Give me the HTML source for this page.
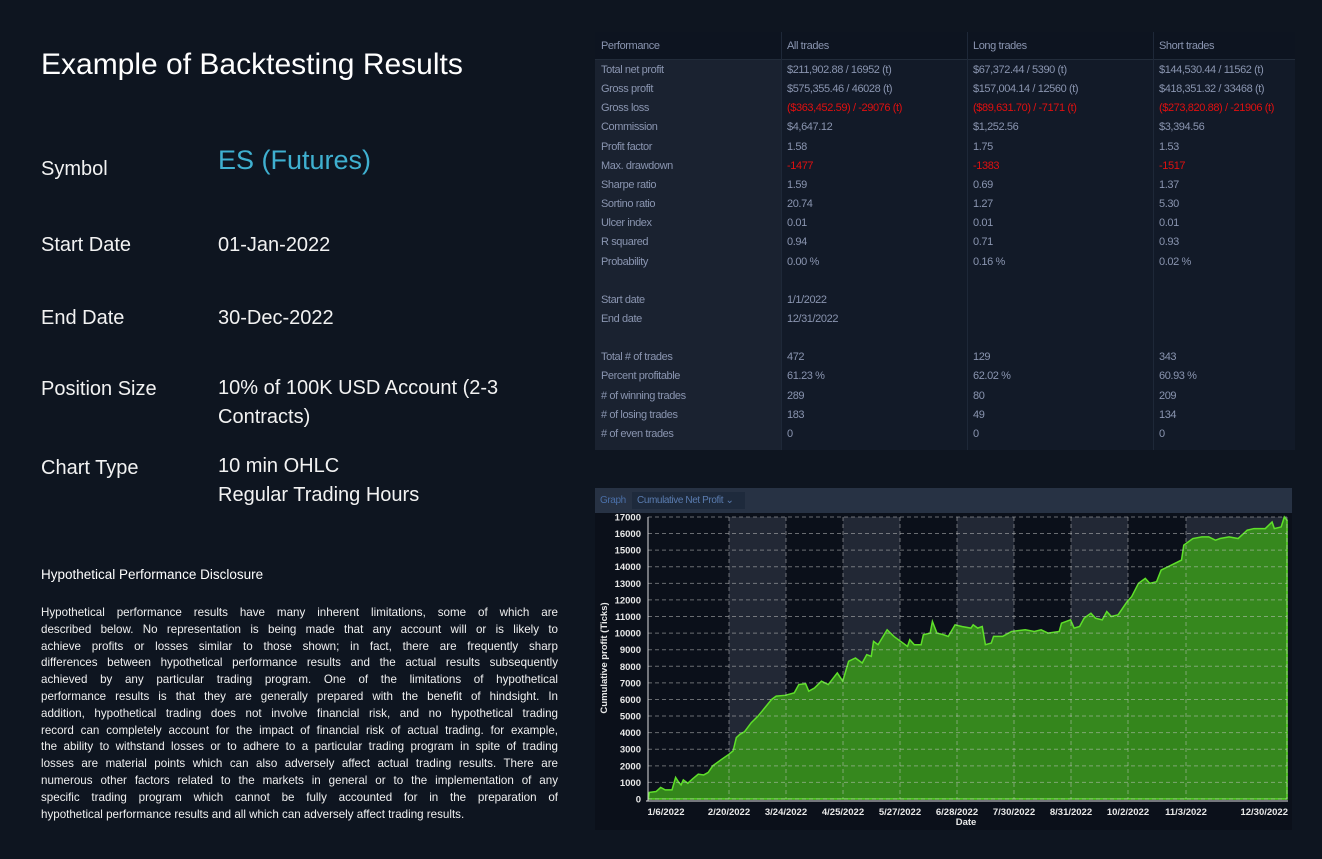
<!DOCTYPE html>
<html><head><meta charset="utf-8">
<style>
*{margin:0;padding:0;box-sizing:border-box}
body{width:1322px;height:859px;background:#0e1520;color:#fff;font-family:"Liberation Sans",sans-serif;position:relative;overflow:hidden}
.a{position:absolute;white-space:nowrap}
.lab{font-size:20px;color:#f2f2f2}
.disc{position:absolute;left:41px;top:605px;width:517px;font-size:11.6px;line-height:16.8px;color:#f0f0f0}
.disc div{text-align:justify;text-align-last:justify;white-space:nowrap;overflow:visible}
.disc div.l{text-align-last:left}
.tbl{position:absolute;left:595px;top:32px;width:700px;height:418px;background:#121a28}
.tbl .lc{position:absolute;left:0;top:28px;width:186px;height:390px;background:#1a2230}
.tbl .hd{position:absolute;left:0;top:0;width:700px;height:28px;background:#0d1420;border-bottom:1px solid #222c3a}
.t{position:absolute;font-size:11px;color:#8a95b0;white-space:nowrap;letter-spacing:-0.4px}
.r{color:#e01010}
</style></head><body>
<div class="a" style="left:41px;top:48px;font-size:30px">Example of Backtesting Results</div>
<div class="a lab" style="left:41px;top:158px">Symbol</div>
<div class="a" style="left:218px;top:145px;font-size:27px;color:#3fb0d0">ES (Futures)</div>
<div class="a lab" style="left:41px;top:234px">Start Date</div>
<div class="a lab" style="left:218px;top:234px">01-Jan-2022</div>
<div class="a lab" style="left:41px;top:307px">End Date</div>
<div class="a lab" style="left:218px;top:307px">30-Dec-2022</div>
<div class="a lab" style="left:41px;top:378px">Position Size</div>
<div class="a lab" style="left:218px;line-height:29px;top:374px">10% of 100K USD Account (2-3<br>Contracts)</div>
<div class="a lab" style="left:41px;top:457px">Chart Type</div>
<div class="a lab" style="left:218px;top:452px;line-height:29px">10 min OHLC<br>Regular Trading Hours</div>
<div class="a" style="left:41px;top:567px;font-size:13.5px">Hypothetical Performance Disclosure</div>
<div class="disc">
<div>Hypothetical performance results have many inherent limitations, some of which are</div>
<div>described below. No representation is being made that any account will or is likely to</div>
<div>achieve profits or losses similar to those shown; in fact, there are frequently sharp</div>
<div>differences between hypothetical performance results and the actual results subsequently</div>
<div>achieved by any particular trading program. One of the limitations of hypothetical</div>
<div>performance results is that they are generally prepared with the benefit of hindsight. In</div>
<div>addition, hypothetical trading does not involve financial risk, and no hypothetical trading</div>
<div>record can completely account for the impact of financial risk of actual trading. for example,</div>
<div>the ability to withstand losses or to adhere to a particular trading program in spite of trading</div>
<div>losses are material points which can also adversely affect actual trading results. There are</div>
<div>numerous other factors related to the markets in general or to the implementation of any</div>
<div>specific trading program which cannot be fully accounted for in the preparation of</div>
<div class="l">hypothetical performance results and all which can adversely affect trading results.</div>
</div>

<div class="tbl"><div class="hd"></div><div class="lc"></div>
<div style="position:absolute;left:186px;top:0;width:1px;height:418px;background:#1e2838"></div>
<div style="position:absolute;left:372px;top:0;width:1px;height:418px;background:#1e2838"></div>
<div style="position:absolute;left:558px;top:0;width:1px;height:418px;background:#1e2838"></div>
</div>
<div id="tb"></div>

<div style="position:absolute;left:595px;top:488px;width:697px;height:25px;background:#273244"></div>
<div class="t" style="left:600px;top:495px;font-size:10px;color:#4a6fa8">Graph</div>
<div style="position:absolute;left:632px;top:492px;width:113px;height:17px;background:#1e2a3c"></div>
<div class="t" style="left:637px;top:495px;font-size:10px;color:#5a7cb0">Cumulative Net Profit ⌄</div>

<svg style="position:absolute;left:0;top:0" width="1322" height="859">
<rect x="595" y="513" width="697" height="317" fill="#0b101a"/>
<g fill="#222835">
<rect x="729" y="517" width="57" height="282"/><rect x="843" y="517" width="57" height="282"/><rect x="957" y="517" width="57" height="282"/><rect x="1071" y="517" width="57" height="282"/><rect x="1186" y="517" width="101" height="282"/>
</g>
<g transform="translate(595,799) scale(0.4529,-0.01659)">
<polygon fill="#38901c" fill-opacity="0.92" stroke="#5fe02a" stroke-width="1.5" vector-effect="non-scaling-stroke" points="118,0 120,400 135,450 145,700 155,550 170,550 178,1300 185,1000 190,850 195,1150 205,950 215,1200 228,1500 240,1450 250,1600 260,2000 280,2400 296,2700 305,2900 312,3700 320,3900 330,4050 345,4600 360,5000 375,5500 390,6000 400,6200 420,6250 440,6400 450,6900 465,6950 472,6500 485,6700 500,7100 515,6900 535,7600 547,7100 560,8300 575,8500 590,8200 600,8700 610,8600 615,9500 625,9300 645,10200 660,9800 680,9400 690,9200 695,9600 705,9300 720,9300 725,9900 740,10000 745,10700 755,10000 770,9900 780,9800 795,10500 810,10400 830,10300 835,10500 845,10300 855,10400 862,9300 875,9400 880,9800 900,9800 920,10100 950,10200 970,10100 985,10200 1000,10000 1025,10100 1030,10600 1050,10800 1058,10300 1070,10400 1080,10900 1095,11200 1105,10900 1120,10800 1130,11300 1140,11000 1155,11100 1175,11900 1185,12200 1200,13000 1215,13300 1225,13000 1240,13100 1250,13800 1265,14000 1280,14200 1295,14400 1300,15300 1320,15700 1340,15800 1355,15800 1370,15600 1380,15700 1400,15800 1420,15700 1440,16200 1455,16300 1480,16300 1495,16700 1500,16300 1515,16400 1522,17000 1528,16800 1528,0"/>
</g>
<g id="grid" stroke="#c8c8c8" stroke-opacity="0.5" stroke-dasharray="4,3" stroke-width="1"></g>
<line x1="648" y1="517" x2="648" y2="801" stroke="#ddd"/>
<line x1="646" y1="801" x2="1288" y2="801" stroke="#ddd"/>
<g id="lbl" font-family="Liberation Sans" font-size="9.5" font-weight="bold" fill="#e8e8e8"></g>
<text x="966" y="825" font-family="Liberation Sans" font-size="9.5" font-weight="bold" fill="#e8e8e8" text-anchor="middle">Date</text>
<text transform="translate(607,658) rotate(-90)" font-family="Liberation Sans" font-size="9.5" font-weight="bold" fill="#e8e8e8" text-anchor="middle">Cumulative profit (Ticks)</text>
</svg>
<script>
var ns="http://www.w3.org/2000/svg",g=document.getElementById('grid'),l=document.getElementById('lbl');
function mk(p,t,a){var e=document.createElementNS(ns,t);for(var k in a)e.setAttribute(k,a[k]);p.appendChild(e);return e;}
for(var v=0;v<=17000;v+=1000){var y=799-v*0.01659;mk(g,'line',{x1:648,x2:1287,y1:y,y2:y});var t=mk(l,'text',{x:641,y:y+3.5,'text-anchor':'end'});t.textContent=v;}
var xs=[648,729,786,843,900,957,1014,1071,1128,1186,1287],lb=['1/6/2022','2/20/2022','3/24/2022','4/25/2022','5/27/2022','6/28/2022','7/30/2022','8/31/2022','10/2/2022','11/3/2022','12/30/2022'];
xs.forEach(function(x,i){mk(g,'line',{x1:x,x2:x,y1:517,y2:799});var t=mk(l,'text',{x:i==10?1288:x+(i==0?18:0),y:815,'text-anchor':i==10?'end':'middle'});t.textContent=lb[i];});
var rows=[["Performance","All trades","Long trades","Short trades"],
["Total net profit","$211,902.88 / 16952 (t)","$67,372.44 / 5390 (t)","$144,530.44 / 11562 (t)"],
["Gross profit","$575,355.46 / 46028 (t)","$157,004.14 / 12560 (t)","$418,351.32 / 33468 (t)"],
["Gross loss","!($363,452.59) / -29076 (t)","!($89,631.70) / -7171 (t)","!($273,820.88) / -21906 (t)"],
["Commission","$4,647.12","$1,252.56","$3,394.56"],
["Profit factor","1.58","1.75","1.53"],
["Max. drawdown","!-1477","!-1383","!-1517"],
["Sharpe ratio","1.59","0.69","1.37"],
["Sortino ratio","20.74","1.27","5.30"],
["Ulcer index","0.01","0.01","0.01"],
["R squared","0.94","0.71","0.93"],
["Probability","0.00 %","0.16 %","0.02 %"],
["","","",""],
["Start date","1/1/2022","",""],
["End date","12/31/2022","",""],
["","","",""],
["Total # of trades","472","129","343"],
["Percent profitable","61.23 %","62.02 %","60.93 %"],
["# of winning trades","289","80","209"],
["# of losing trades","183","49","134"],
["# of even trades","0","0","0"]];
var tb=document.getElementById('tb'),cx=[601,787,973,1159],h='';
rows.forEach(function(r,i){var y=i==0?40:64+(i-1)*19.15;r.forEach(function(c,j){var red=c[0]=='!';if(red)c=c.slice(1);if(c)h+='<div class="t'+(red?' r':'')+'" style="left:'+cx[j]+'px;top:'+y+'px">'+c+'</div>';});});
tb.innerHTML=h;
</script>
</body></html>
